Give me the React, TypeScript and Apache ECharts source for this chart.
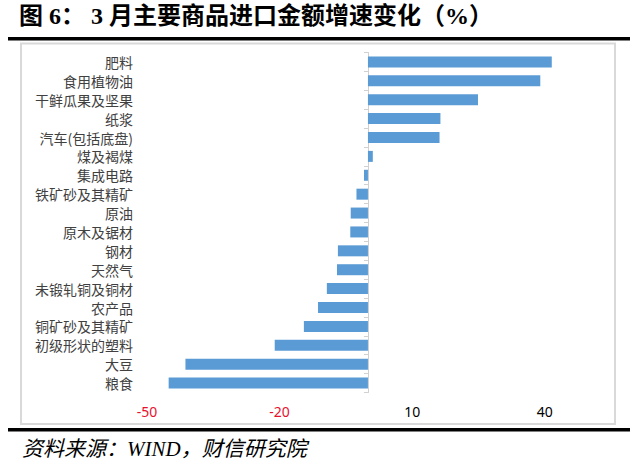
import React, { useEffect, useRef } from "react";
import * as echarts from "echarts";

const categories = [
  "肥料",
  "食用植物油",
  "干鲜瓜果及坚果",
  "纸浆",
  "汽车(包括底盘)",
  "煤及褐煤",
  "集成电路",
  "铁矿砂及其精矿",
  "原油",
  "原木及锯材",
  "钢材",
  "天然气",
  "未锻轧铜及铜材",
  "农产品",
  "铜矿砂及其精矿",
  "初级形状的塑料",
  "大豆",
  "粮食",
];
const growth = [
  41.6, 39.0, 24.9, 16.4, 16.2, 1.1, -0.9, -2.6, -3.9, -4.0, -6.8, -7.0, -9.3,
  -11.3, -14.5, -21.1, -41.3, -45.1,
];
const tickValues = [-50, -20, 10, 40];

const titleText = "图 6： 3 月主要商品进口金额增速变化（%）";
const sourceText = "资料来源：WIND，财信研究院";

export default function App() {
  const ref = useRef<HTMLDivElement>(null);
  useEffect(() => {
    document.body.style.margin = "0";
    const chart = echarts.init(ref.current!, null, { renderer: "svg" });
    chart.setOption({
      animation: false,
      backgroundColor: "#ffffff",
      grid: {
        left: 147,
        right: 29,
        top: 52.5,
        height: 340,
        containLabel: false,
        outerBoundsMode: "none",
      },
      xAxis: {
        type: "value",
        min: -50,
        max: 55,
        interval: 30,
        axisLine: { show: false },
        axisTick: { show: false },
        splitLine: { show: false },
        axisLabel: {
          margin: 12,
          fontSize: 14,
          fontFamily: "Noto Sans",
          color: (v: number) => (v < 0 ? "#E8112D" : "#000000"),
          formatter: (v: number) => (tickValues.includes(v) ? String(v) : ""),
        },
      },
      yAxis: {
        type: "category",
        data: categories,
        inverse: true,
        axisLine: { show: true, onZero: true, lineStyle: { color: "#D0D0D0", width: 1 } },
        axisTick: { show: true, length: 4, lineStyle: { color: "#D0D0D0" } },
        axisLabel: {
          margin: 14,
          fontSize: 14,
          lineHeight: 16,
          color: "#404040",
          fontFamily: "Noto Sans CJK SC",
        },
      },
      series: [
        {
          type: "bar",
          data: growth,
          barWidth: 11,
          itemStyle: { color: "#5B9BD5" },
        },
      ],
      graphic: [
        {
          type: "text",
          left: 19,
          top: 4,
          style: {
            text: titleText,
            fontSize: 24,
            fontWeight: "bold",
            fontFamily: "Liberation Serif, Noto Sans CJK SC",
            fill: "#000000",
          },
        },
        {
          type: "rect",
          shape: { x: 8, y: 37, width: 622, height: 3.5 },
          style: { fill: "#000000" },
        },
        {
          type: "rect",
          shape: { x: 21, y: 43.5, width: 594, height: 380.5 },
          style: { fill: "none", stroke: "#D9D9D9", lineWidth: 2 },
        },
        {
          type: "rect",
          shape: { x: 8, y: 428, width: 622, height: 3.5 },
          style: { fill: "#000000" },
        },
        {
          type: "text",
          left: 22,
          top: 438,
          style: {
            text: sourceText,
            fontSize: 21,
            fontStyle: "italic",
            fontFamily: "Liberation Serif, Noto Sans CJK SC",
            fill: "#000000",
          },
        },
      ],
    });
    return () => chart.dispose();
  }, []);
  return <div ref={ref} style={{ width: 640, height: 469 }} />;
}
